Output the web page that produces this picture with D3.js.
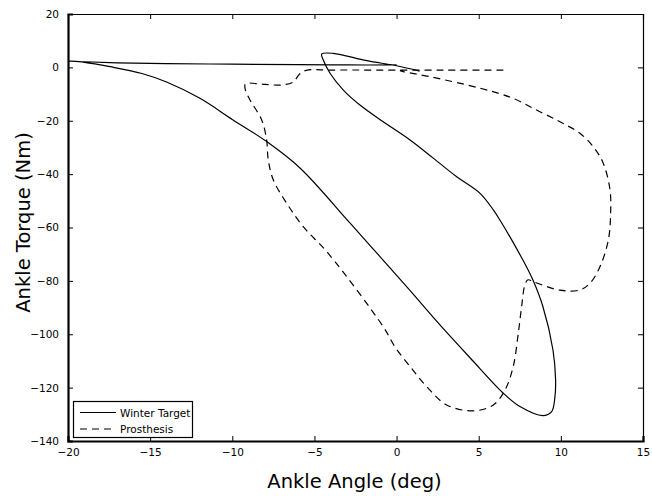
<!DOCTYPE html>
<html>
<head>
<meta charset="utf-8">
<script src="https://cdn.jsdelivr.net/npm/d3@7"></script>
<style>
  html, body { margin: 0; padding: 0; background: #fff; }
  svg { display: block; }
  text { font-family: "DejaVu Sans", Verdana, sans-serif; fill: #000; }
</style>
</head>
<body>
<svg id="chart" width="652" height="496"></svg>
<script>
// ---- data ----
const xTicks = [-20, -15, -10, -5, 0, 5, 10, 15];
const yTicks = [-140, -120, -100, -80, -60, -40, -20, 0, 20];
const seriesNames = ["Winter Target", "Prosthesis"];

const winterAngle = [1.4, 0.0, -1.82, -3.85, -4.56, -4.46, -4.05, -3.24, -2.23, -0.81, 0.82, 2.23, 3.66, 5.08, 5.89, 6.29, 7.69, 8.3, 8.91, 9.52, 9.68, 9.64, 9.44, 8.91, 7.51, 6.48, 4.5, 2.64, 0.8, -1.01, -2.84, -5.88, -7.91, -10.0, -11.97, -14.0, -15.5, -17.44, -19.0, -20.0, -19.0, -17.0, -14.0, -10.0, -6.0, -3.0, 0.0];
const winterTorque = [-1.4, 0.6, 2.5, 5.27, 5.0, 2.77, -2.2, -8.5, -14.1, -20.4, -27.2, -34.0, -41.0, -47.2, -53.4, -57.2, -72.2, -79.7, -89.7, -105.9, -117.0, -123.4, -129.0, -130.5, -127.1, -122.0, -109.0, -96.5, -83.5, -70.9, -58.3, -37.7, -27.8, -19.5, -11.6, -5.5, -2.3, 0.25, 1.9, 2.4, 2.1, 1.7, 1.4, 1.2, 1.0, 0.9, 0.9];

const prosAngle = [6.5, 3.0, -1.0, -4.0, -5.5, -5.9, -6.3, -7.0, -8.0, -9.2, -9.2, -8.92, -8.21, -7.91, -7.81, -7.5, -6.69, -5.68, -4.16, -0.81, -0.1, 0.82, 1.83, 3.05, 4.67, 5.89, 6.6, 7.1, 7.41, 7.61, 7.81, 8.0, 8.32, 9.95, 11.16, 11.77, 12.38, 12.89, 13.03, 12.99, 12.58, 11.97, 11.16, 9.95, 8.52, 7.1, 5.08, 2.03, 0.41, 0.2];
const prosTorque = [-1.0, -1.0, -1.0, -1.0, -1.1, -2.5, -5.5, -6.6, -6.4, -6.2, -8.5, -12.2, -19.7, -27.2, -34.7, -42.2, -50.9, -59.7, -69.7, -97.2, -104.7, -112.1, -119.6, -126.5, -128.7, -126.5, -120.9, -112.1, -99.6, -89.7, -81.5, -79.6, -80.3, -83.5, -83.4, -80.9, -74.7, -64.7, -54.7, -45.9, -35.9, -29.7, -24.7, -20.4, -16.0, -11.6, -7.8, -3.5, -1.6, -1.2];

// ---- layout ----
const svg = d3.select("#chart");
const pL = 68, pR = 643, pT = 14, pB = 441;

const x = d3.scaleLinear().domain([-20, 15]).range([pL, pR]);
const y = d3.scaleLinear().domain([-140, 20]).range([pB, pT]);

const fmt = d => d < 0 ? "\u2212" + Math.abs(d) : String(d);

svg.append("defs").append("clipPath").attr("id", "clip")
  .append("rect").attr("x", pL).attr("y", pT).attr("width", pR - pL).attr("height", pB - pT);

// axes (ticks inward)
const gB = svg.append("g").attr("transform", `translate(0,${pB})`)
  .call(d3.axisBottom(x).tickValues(xTicks).tickSize(-5).tickPadding(8).tickFormat(fmt));
const gT = svg.append("g").attr("transform", `translate(0,${pT})`)
  .call(d3.axisTop(x).tickValues(xTicks).tickSize(-5).tickFormat(""));
const gL = svg.append("g").attr("transform", `translate(${pL},0)`)
  .call(d3.axisLeft(y).tickValues(yTicks).tickSize(-5).tickPadding(9).tickFormat(fmt));
const gR = svg.append("g").attr("transform", `translate(${pR},0)`)
  .call(d3.axisRight(y).tickValues(yTicks).tickSize(-5).tickFormat(""));

[gB, gT, gL, gR].forEach(g => {
  g.selectAll(".domain").attr("stroke", "#000");
  g.selectAll(".tick line").attr("stroke", "#000").attr("stroke-width", 1);
  g.selectAll(".tick text").style("font-family", "'DejaVu Sans', Verdana, sans-serif")
    .style("font-size", "10.5px").attr("fill", "#000");
});
gB.select(".domain").attr("stroke-width", 2.2);
gL.select(".domain").attr("stroke-width", 2.2);
gT.select(".domain").attr("stroke-width", 1.2);
gR.select(".domain").attr("stroke-width", 1.2);

// lines
const line = d3.line().x(d => x(d[0])).y(d => y(d[1])).curve(d3.curveCatmullRom.alpha(0.5));
const winter = winterAngle.map((a, i) => [a, winterTorque[i]]);
const pros = prosAngle.map((a, i) => [a, prosTorque[i]]);

const plot = svg.append("g").attr("clip-path", "url(#clip)");
plot.append("path").datum(winter).attr("d", line)
  .attr("fill", "none").attr("stroke", "#000").attr("stroke-width", 1.2);
plot.append("path").datum(pros).attr("d", line)
  .attr("fill", "none").attr("stroke", "#000").attr("stroke-width", 1.2)
  .attr("stroke-dasharray", "7,5");

// legend
const lg = svg.append("g");
lg.append("rect").attr("x", 73.5).attr("y", 401.5).attr("width", 119).attr("height", 36)
  .attr("fill", "#fff").attr("stroke", "#000").attr("stroke-width", 1.2);
const dashes = [null, "7,5"];
seriesNames.forEach((name, i) => {
  const yy = 412.5 + i * 16.5;
  lg.append("line").attr("x1", 80).attr("x2", 116).attr("y1", yy).attr("y2", yy)
    .attr("stroke", "#000").attr("stroke-width", 1.1)
    .attr("stroke-dasharray", dashes[i]);
  lg.append("text").attr("x", 120).attr("y", yy + 4).style("font-size", "10.5px").text(name);
});

// axis labels
svg.append("text").attr("x", (pL + pR) / 2 - 1).attr("y", 488)
  .attr("text-anchor", "middle").style("font-size", "19.5px").text("Ankle Angle (deg)");
svg.append("text").attr("transform", `translate(30,${(pT + pB) / 2 - 5}) rotate(-90)`)
  .attr("text-anchor", "middle").style("font-size", "19.5px").text("Ankle Torque (Nm)");
</script>
</body>
</html>
